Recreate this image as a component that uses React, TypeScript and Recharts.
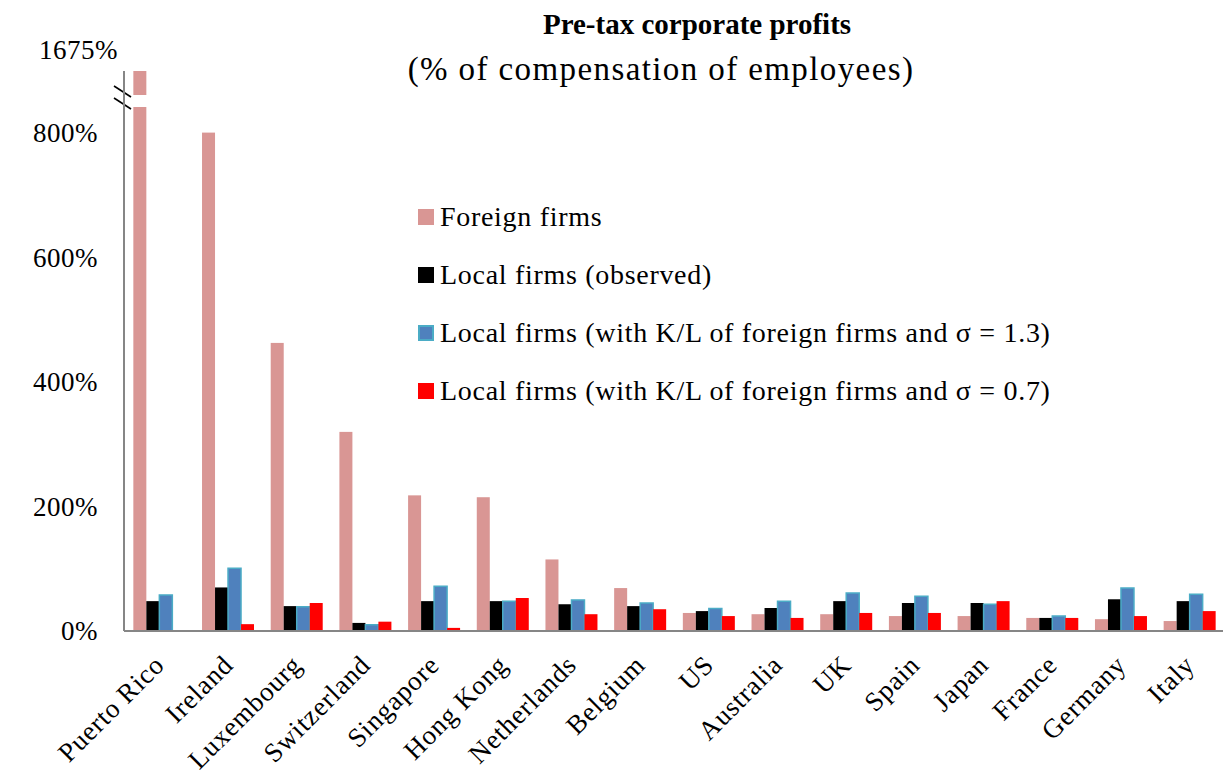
import React from 'react';
import { BarChart, Bar, XAxis, YAxis } from 'recharts';

const countries = ['Puerto Rico', 'Ireland', 'Luxembourg', 'Switzerland', 'Singapore', 'Hong Kong', 'Netherlands', 'Belgium', 'US', 'Australia', 'UK', 'Spain', 'Japan', 'France', 'Germany', 'Italy'];
const foreignFirms = [1675, 801, 463, 320, 218, 215, 115, 69, 29, 27, 27, 24, 24, 21, 19, 16];
const localObserved = [48, 70, 40, 13, 48, 48, 43, 40, 32, 37, 48, 45, 45, 21, 51, 48];
const localSigma13 = [58, 101, 39, 10, 72, 48, 50, 45, 36, 48, 61, 56, 43, 24, 69, 59];
const localSigma07 = [null, 11, 45, 15, 5, 53, 27, 35, 24, 21, 29, 29, 48, 21, 24, 32];
const yTicks = [0, 200, 400, 600, 800];
const yMax = 900;
const breakLabel = '1675%';

const seriesNames = [
  'Foreign firms',
  'Local firms (observed)',
  'Local firms (with K/L of foreign firms and σ = 1.3)',
  'Local firms (with K/L of foreign firms and σ = 0.7)',
];
const seriesColors = ['#d99694', '#000000', '#4f81bd', '#ff0000'];
const seriesStrokes = ['none', 'none', '#4bacc6', 'none'];

const data = countries.map((c, i) => ({
  name: c,
  foreign: foreignFirms[i],
  observed: localObserved[i],
  s13: localSigma13[i],
  s07: localSigma07[i],
}));

const W = 1225;
const H = 776;
const M_LEFT = 20;
const Y_AXIS_W = 104;
const AXIS_X = M_LEFT + Y_AXIS_W;
const PLOT_TOP = 71;
const FONT = '"Liberation Serif", "DejaVu Serif", serif';
const AXIS_COLOR = '#868686';

const ForeignShape = (props: any) => {
  const { x, y, width, height, fill, payload } = props;
  if (width == null || height == null) return null;
  const bottom = y + height;
  const top = Math.max(y, PLOT_TOP);
  const clipped = payload && payload.foreign > yMax;
  return (
    <g>
      <rect x={x} y={top} width={width} height={bottom - top} fill={fill} />
      {clipped && (
        <g>
          <rect x={x - 1} y={top + 24} width={width + 2} height={12} fill="#ffffff" />
          <line x1={AXIS_X - 10} y1={PLOT_TOP + 15} x2={AXIS_X + 7} y2={PLOT_TOP + 26} stroke="#000" strokeWidth={1.6} />
          <line x1={AXIS_X - 10} y1={PLOT_TOP + 27} x2={AXIS_X + 7} y2={PLOT_TOP + 38} stroke="#000" strokeWidth={1.6} />
        </g>
      )}
    </g>
  );
};

const YTick = (props: any) => {
  const { x, y, payload } = props;
  const isBreak = payload.value === yMax;
  return (
    <text
      x={isBreak ? x + 20 : x}
      y={isBreak ? y - 21 : y}
      textAnchor="end"
      dominantBaseline="central"
      fontFamily={FONT}
      fontSize={27}
      letterSpacing={0.5}
      fill="#000"
    >
      {isBreak ? breakLabel : `${payload.value}%`}
    </text>
  );
};

const XTick = (props: any) => {
  const { x, y, payload } = props;
  const ax = x - 6;
  const ay = y + 14;
  return (
    <text
      x={ax}
      y={ay}
      textAnchor="end"
      dominantBaseline="hanging"
      transform={`rotate(-45, ${ax}, ${ay})`}
      fontFamily={FONT}
      fontSize={27}
      letterSpacing={0.8}
      fill="#000"
    >
      {payload.value}
    </text>
  );
};

const ChartLegend = () => (
  <div style={{ position: 'absolute', left: 418, top: 188, fontFamily: FONT, fontSize: 28, letterSpacing: 0.7, color: '#000' }}>
    {seriesNames.map((n, i) => (
      <div key={i} style={{ display: 'flex', alignItems: 'center', height: 58, whiteSpace: 'nowrap' }}>
        <span
          style={{
            display: 'inline-block',
            width: 16,
            height: 16,
            background: seriesColors[i],
            boxSizing: 'border-box',
            border: seriesStrokes[i] !== 'none' ? `2px solid ${seriesStrokes[i]}` : 'none',
            marginRight: 6,
          }}
        />
        <span>{n}</span>
      </div>
    ))}
  </div>
);

export default function App() {
  return (
    <div style={{ position: 'absolute', left: 0, top: 0, width: W, height: H, background: '#fff' }}>
      <div style={{ position: 'absolute', left: 0, top: 0 }}>
        <BarChart
          width={W}
          height={H}
          data={data}
          margin={{ top: PLOT_TOP, right: 2, bottom: 0, left: M_LEFT }}
          barCategoryGap="13.6%"
          barGap={0}
        >
          <XAxis
            dataKey="name"
            interval={0}
            height={145}
            tickLine={false}
            axisLine={{ stroke: AXIS_COLOR, strokeWidth: 2 }}
            tick={<XTick />}
          />
          <YAxis
            width={Y_AXIS_W}
            domain={[0, yMax]}
            ticks={[...yTicks, yMax]}
            allowDataOverflow
            tickLine={false}
            tickSize={0}
            tickMargin={26}
            axisLine={{ stroke: AXIS_COLOR, strokeWidth: 2 }}
            tick={<YTick />}
          />
          <Bar dataKey="foreign" name={seriesNames[0]} fill={seriesColors[0]} isAnimationActive={false} shape={<ForeignShape />} />
          <Bar dataKey="observed" name={seriesNames[1]} fill={seriesColors[1]} isAnimationActive={false} />
          <Bar dataKey="s13" name={seriesNames[2]} fill={seriesColors[2]} stroke={seriesStrokes[2]} strokeWidth={1.5} isAnimationActive={false} />
          <Bar dataKey="s07" name={seriesNames[3]} fill={seriesColors[3]} isAnimationActive={false} />
        </BarChart>
      </div>
      <div
        style={{
          position: 'absolute', left: 497, top: 6, width: 400, textAlign: 'center',
          fontFamily: FONT, fontWeight: 'bold', fontSize: 29, lineHeight: '36px', color: '#000',
        }}
      >
        Pre-tax corporate profits
      </div>
      <div
        style={{
          position: 'absolute', left: 311, top: 48, width: 700, textAlign: 'center',
          fontFamily: FONT, fontSize: 33, letterSpacing: 1.4, lineHeight: '42px', color: '#000',
        }}
      >
        (% of compensation of employees)
      </div>
      <ChartLegend />
    </div>
  );
}
